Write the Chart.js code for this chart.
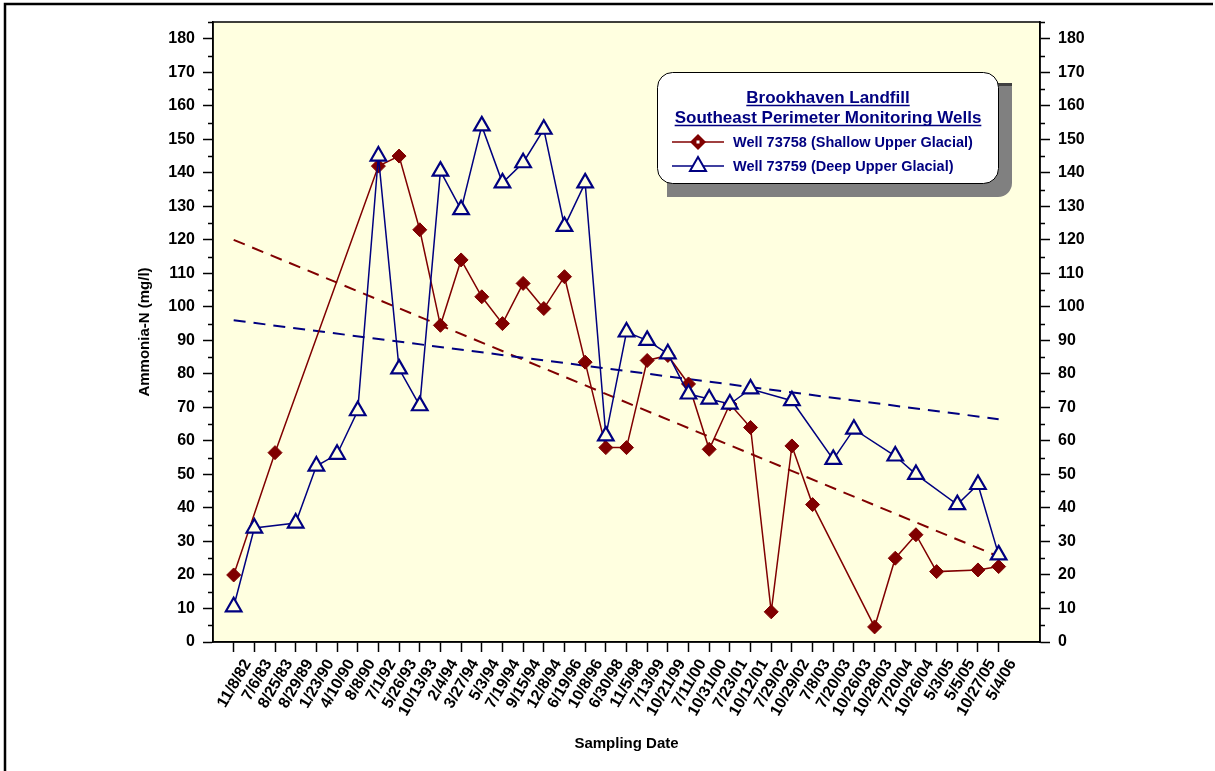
<!DOCTYPE html>
<html>
<head>
<meta charset="utf-8">
<title>Brookhaven Landfill - Southeast Perimeter Monitoring Wells</title>
<script src="https://cdn.jsdelivr.net/npm/chart.js@4.4.0/dist/chart.umd.min.js"></script>
<style>
    html, body { margin: 0; padding: 0; background: #ffffff; }
    #wrap { width: 1215px; height: 771px; }
</style>
</head>
<body>
<div id="wrap"><canvas id="ammoniaChart" width="1215" height="771"></canvas></div>
<script>
const samplingDates = [
    '11/8/82', '7/6/83', '8/25/83', '8/29/89', '1/23/90', '4/10/90', '8/8/90', '7/1/92',
    '5/26/93', '10/13/93', '2/4/94', '3/27/94', '5/3/94', '7/19/94', '9/15/94', '12/8/94',
    '6/19/96', '10/8/96', '6/30/98', '11/5/98', '7/13/99', '10/21/99', '7/11/00', '10/31/00',
    '7/23/01', '10/12/01', '7/29/02', '10/29/02', '7/8/03', '7/20/03', '10/26/03', '10/28/03',
    '7/20/04', '10/26/04', '5/3/05', '5/5/05', '10/27/05', '5/4/06'
];

// Well 73758 (Shallow Upper Glacial), null = not sampled
const well73758 = [
    20, null, 56.5, null, null, null, null, 142,
    145, 123, 94.5, 114, 103, 95, 107, 99.5,
    109, 83.5, 58, 58, 84, 85.5, 77, 57.5,
    71, 64, 9, 58.5, 41, null, null, 4.5,
    25, 32, 21, null, 21.5, 22.5
];

// Well 73759 (Deep Upper Glacial)
const well73759 = [
    10.5, 34, null, 35.5, 52.5, 56, 69, 145,
    81.5, 70.5, 140.5, 129, 154, 137, 143, 153,
    124, 137, 61.5, 92.5, 90, 86, 74, 72.5,
    71, 75.5, null, 72, null, 54.5, 63.5, null,
    55.5, 50, null, 41, 47, 26
];

// trend lines, value at first and last sampling date
const trend73758 = [120, 25.5];
const trend73759 = [96, 66.5];

const yMin = 0;
const yMax = 185;
const yLabelStep = 10;

const RED = '#800000';
const NAVY = '#000080';
const FONT = "'Liberation Sans', Arial, Helvetica, sans-serif";

Chart.defaults.font.family = FONT;
Chart.defaults.color = '#000000';

function toPoints(values) {
    return values
        .map((v, i) => ({ x: i, y: v }))
        .filter(p => p.y !== null);
}

function trendPoints(ends) {
    return [{ x: 0, y: ends[0] }, { x: samplingDates.length - 1, y: ends[1] }];
}

const isMajor = v => v % yLabelStep === 0;

const chartDecor = {
    id: 'chartDecor',
    beforeDraw(chart) {
        const { ctx, chartArea: a } = chart;
        ctx.save();
        ctx.fillStyle = '#ffffff';
        ctx.fillRect(0, 0, chart.width, chart.height);
        ctx.fillStyle = '#ffffe0';
        ctx.fillRect(a.left, a.top, a.right - a.left, a.bottom - a.top);

        // page frame (top and left edge visible)
        ctx.strokeStyle = '#000000';
        ctx.lineWidth = 2.5;
        ctx.beginPath();
        ctx.moveTo(5, chart.height);
        ctx.lineTo(5, 4);
        ctx.lineTo(chart.width - 2, 4);
        ctx.stroke();
        ctx.restore();
    },
    afterDraw(chart) {
        const { ctx, chartArea: a } = chart;
        const yl = chart.scales.y;
        ctx.save();

        // plot box
        ctx.strokeStyle = '#000000';
        ctx.lineWidth = 1.5;
        ctx.strokeRect(a.left, a.top, a.right - a.left, a.bottom - a.top);

        // minor ticks (short) on both value axes
        ctx.beginPath();
        yl.ticks.forEach(t => {
            if (isMajor(t.value)) return;
            const py = Math.round(yl.getPixelForValue(t.value)) + 0.5;
            ctx.moveTo(a.left - 5, py);
            ctx.lineTo(a.left, py);
            ctx.moveTo(a.right, py);
            ctx.lineTo(a.right + 5, py);
        });
        ctx.stroke();

        drawLegend(ctx);
        ctx.restore();
    }
};

function drawLegend(ctx) {
    // shadow
    ctx.fillStyle = '#808080';
    ctx.beginPath();
    ctx.roundRect(667, 83, 345, 114, [0, 4, 14, 0]);
    ctx.fill();
    ctx.fillStyle = '#404040';
    ctx.fillRect(998, 83, 14, 3);

    // box
    ctx.fillStyle = '#ffffff';
    ctx.strokeStyle = '#000000';
    ctx.lineWidth = 1;
    ctx.beginPath();
    ctx.roundRect(657.5, 72.5, 341, 111, 15);
    ctx.fill();
    ctx.stroke();

    // title
    ctx.fillStyle = NAVY;
    ctx.strokeStyle = NAVY;
    ctx.textAlign = 'center';
    ctx.textBaseline = 'alphabetic';
    ctx.font = 'bold 17px ' + FONT;
    const titleLines = ['Brookhaven Landfill', 'Southeast Perimeter Monitoring Wells'];
    const baselines = [103, 123];
    titleLines.forEach((t, i) => {
        ctx.fillText(t, 828, baselines[i]);
        const w = ctx.measureText(t).width;
        ctx.lineWidth = 1.5;
        ctx.beginPath();
        ctx.moveTo(828 - w / 2, baselines[i] + 2.5);
        ctx.lineTo(828 + w / 2, baselines[i] + 2.5);
        ctx.stroke();
    });

    // entries
    ctx.textAlign = 'left';
    ctx.textBaseline = 'middle';
    ctx.font = 'bold 14.5px ' + FONT;

    const y1 = 142, y2 = 166;
    ctx.lineWidth = 1.5;
    ctx.strokeStyle = RED;
    ctx.beginPath();
    ctx.moveTo(672, y1);
    ctx.lineTo(724, y1);
    ctx.stroke();
    ctx.fillStyle = RED;
    ctx.beginPath();
    ctx.moveTo(698, y1 - 8);
    ctx.lineTo(706, y1);
    ctx.lineTo(698, y1 + 8);
    ctx.lineTo(690, y1);
    ctx.closePath();
    ctx.fill();
    ctx.fillStyle = '#ffffff';
    ctx.fillRect(696.5, y1 - 1.5, 3, 3);

    ctx.strokeStyle = NAVY;
    ctx.beginPath();
    ctx.moveTo(672, y2);
    ctx.lineTo(724, y2);
    ctx.stroke();
    ctx.lineWidth = 2;
    ctx.fillStyle = '#ffffff';
    ctx.beginPath();
    ctx.moveTo(698, y2 - 9);
    ctx.lineTo(706, y2 + 5);
    ctx.lineTo(690, y2 + 5);
    ctx.closePath();
    ctx.fill();
    ctx.stroke();

    ctx.fillStyle = NAVY;
    ctx.fillText('Well 73758 (Shallow Upper Glacial)', 733, y1 + 1);
    ctx.fillText('Well 73759 (Deep Upper Glacial)', 733, y2 + 1);
}

document.addEventListener('DOMContentLoaded', () => {
    const ctx = document.getElementById('ammoniaChart').getContext('2d');

    const valueAxis = (position, width) => ({
        type: 'linear',
        position: position,
        min: yMin,
        max: yMax,
        afterFit: scale => { scale.width = width; },
        border: { display: true, color: '#000000', width: 1.5 },
        grid: {
            drawOnChartArea: false,
            drawTicks: true,
            tickLength: 10,
            tickWidth: 1.5,
            tickColor: c => (c.tick && isMajor(c.tick.value)) ? '#000000' : 'rgba(0,0,0,0)'
        },
        ticks: {
            stepSize: yLabelStep / 2,
            autoSkip: false,
            padding: 8,
            color: '#000000',
            font: { size: 16, weight: 'bold' },
            callback: v => (isMajor(v) ? v : '')
        }
    });

    window.ammoniaChart = new Chart(ctx, {
        type: 'line',
        data: {
            datasets: [
                {
                    label: 'Well 73759 (Deep Upper Glacial)',
                    data: toPoints(well73759),
                    borderColor: NAVY,
                    borderWidth: 1.5,
                    pointStyle: 'triangle',
                    pointRadius: 9,
                    pointBorderWidth: 2.2,
                    pointBorderColor: NAVY,
                    pointBackgroundColor: '#ffffe0',
                    tension: 0,
                    order: 0
                },
                {
                    label: 'Well 73758 (Shallow Upper Glacial)',
                    data: toPoints(well73758),
                    borderColor: RED,
                    borderWidth: 1.5,
                    pointStyle: 'rectRot',
                    pointRadius: 7,
                    pointBorderWidth: 1,
                    pointBorderColor: RED,
                    pointBackgroundColor: RED,
                    tension: 0,
                    order: 1
                },
                {
                    label: 'Trend 73759',
                    data: trendPoints(trend73759),
                    borderColor: NAVY,
                    borderWidth: 2,
                    borderDash: [12, 8],
                    pointRadius: 0,
                    order: 2
                },
                {
                    label: 'Trend 73758',
                    data: trendPoints(trend73758),
                    borderColor: RED,
                    borderWidth: 2,
                    borderDash: [12, 8],
                    pointRadius: 0,
                    order: 3
                }
            ]
        },
        options: {
            responsive: false,
            animation: false,
            layout: { padding: { top: 22, left: 0, right: 0, bottom: 0 } },
            plugins: {
                legend: { display: false },
                tooltip: { enabled: false },
                title: { display: false }
            },
            scales: {
                x: {
                    type: 'linear',
                    min: -1,
                    max: samplingDates.length + 1,
                    afterFit: scale => { scale.height = 129; },
                    border: { display: true, color: '#000000', width: 1.5 },
                    grid: {
                        drawOnChartArea: false,
                        drawTicks: true,
                        tickLength: 10,
                        tickWidth: 1.5,
                        tickColor: c => (c.tick && c.tick.value >= 0 && c.tick.value < samplingDates.length) ? '#000000' : 'rgba(0,0,0,0)'
                    },
                    ticks: {
                        stepSize: 1,
                        autoSkip: false,
                        maxTicksLimit: 100,
                        minRotation: 60,
                        maxRotation: 60,
                        padding: 4,
                        labelOffset: 14,
                        color: '#000000',
                        font: { size: 16, weight: 'bold' },
                        callback: v => samplingDates[v] || ''
                    },
                    title: {
                        display: true,
                        text: 'Sampling Date',
                        color: '#000000',
                        font: { size: 15, weight: 'bold' },
                        padding: { top: 0, bottom: 18 }
                    }
                },
                y: Object.assign(valueAxis('left', 213), {
                    title: {
                        display: true,
                        text: 'Ammonia-N (mg/l)',
                        color: '#000000',
                        font: { size: 15, weight: 'bold' },
                        padding: { top: 136, bottom: 0 }
                    }
                }),
                y2: valueAxis('right', 175)
            }
        },
        plugins: [chartDecor]
    });
});
</script>
</body>
</html>
